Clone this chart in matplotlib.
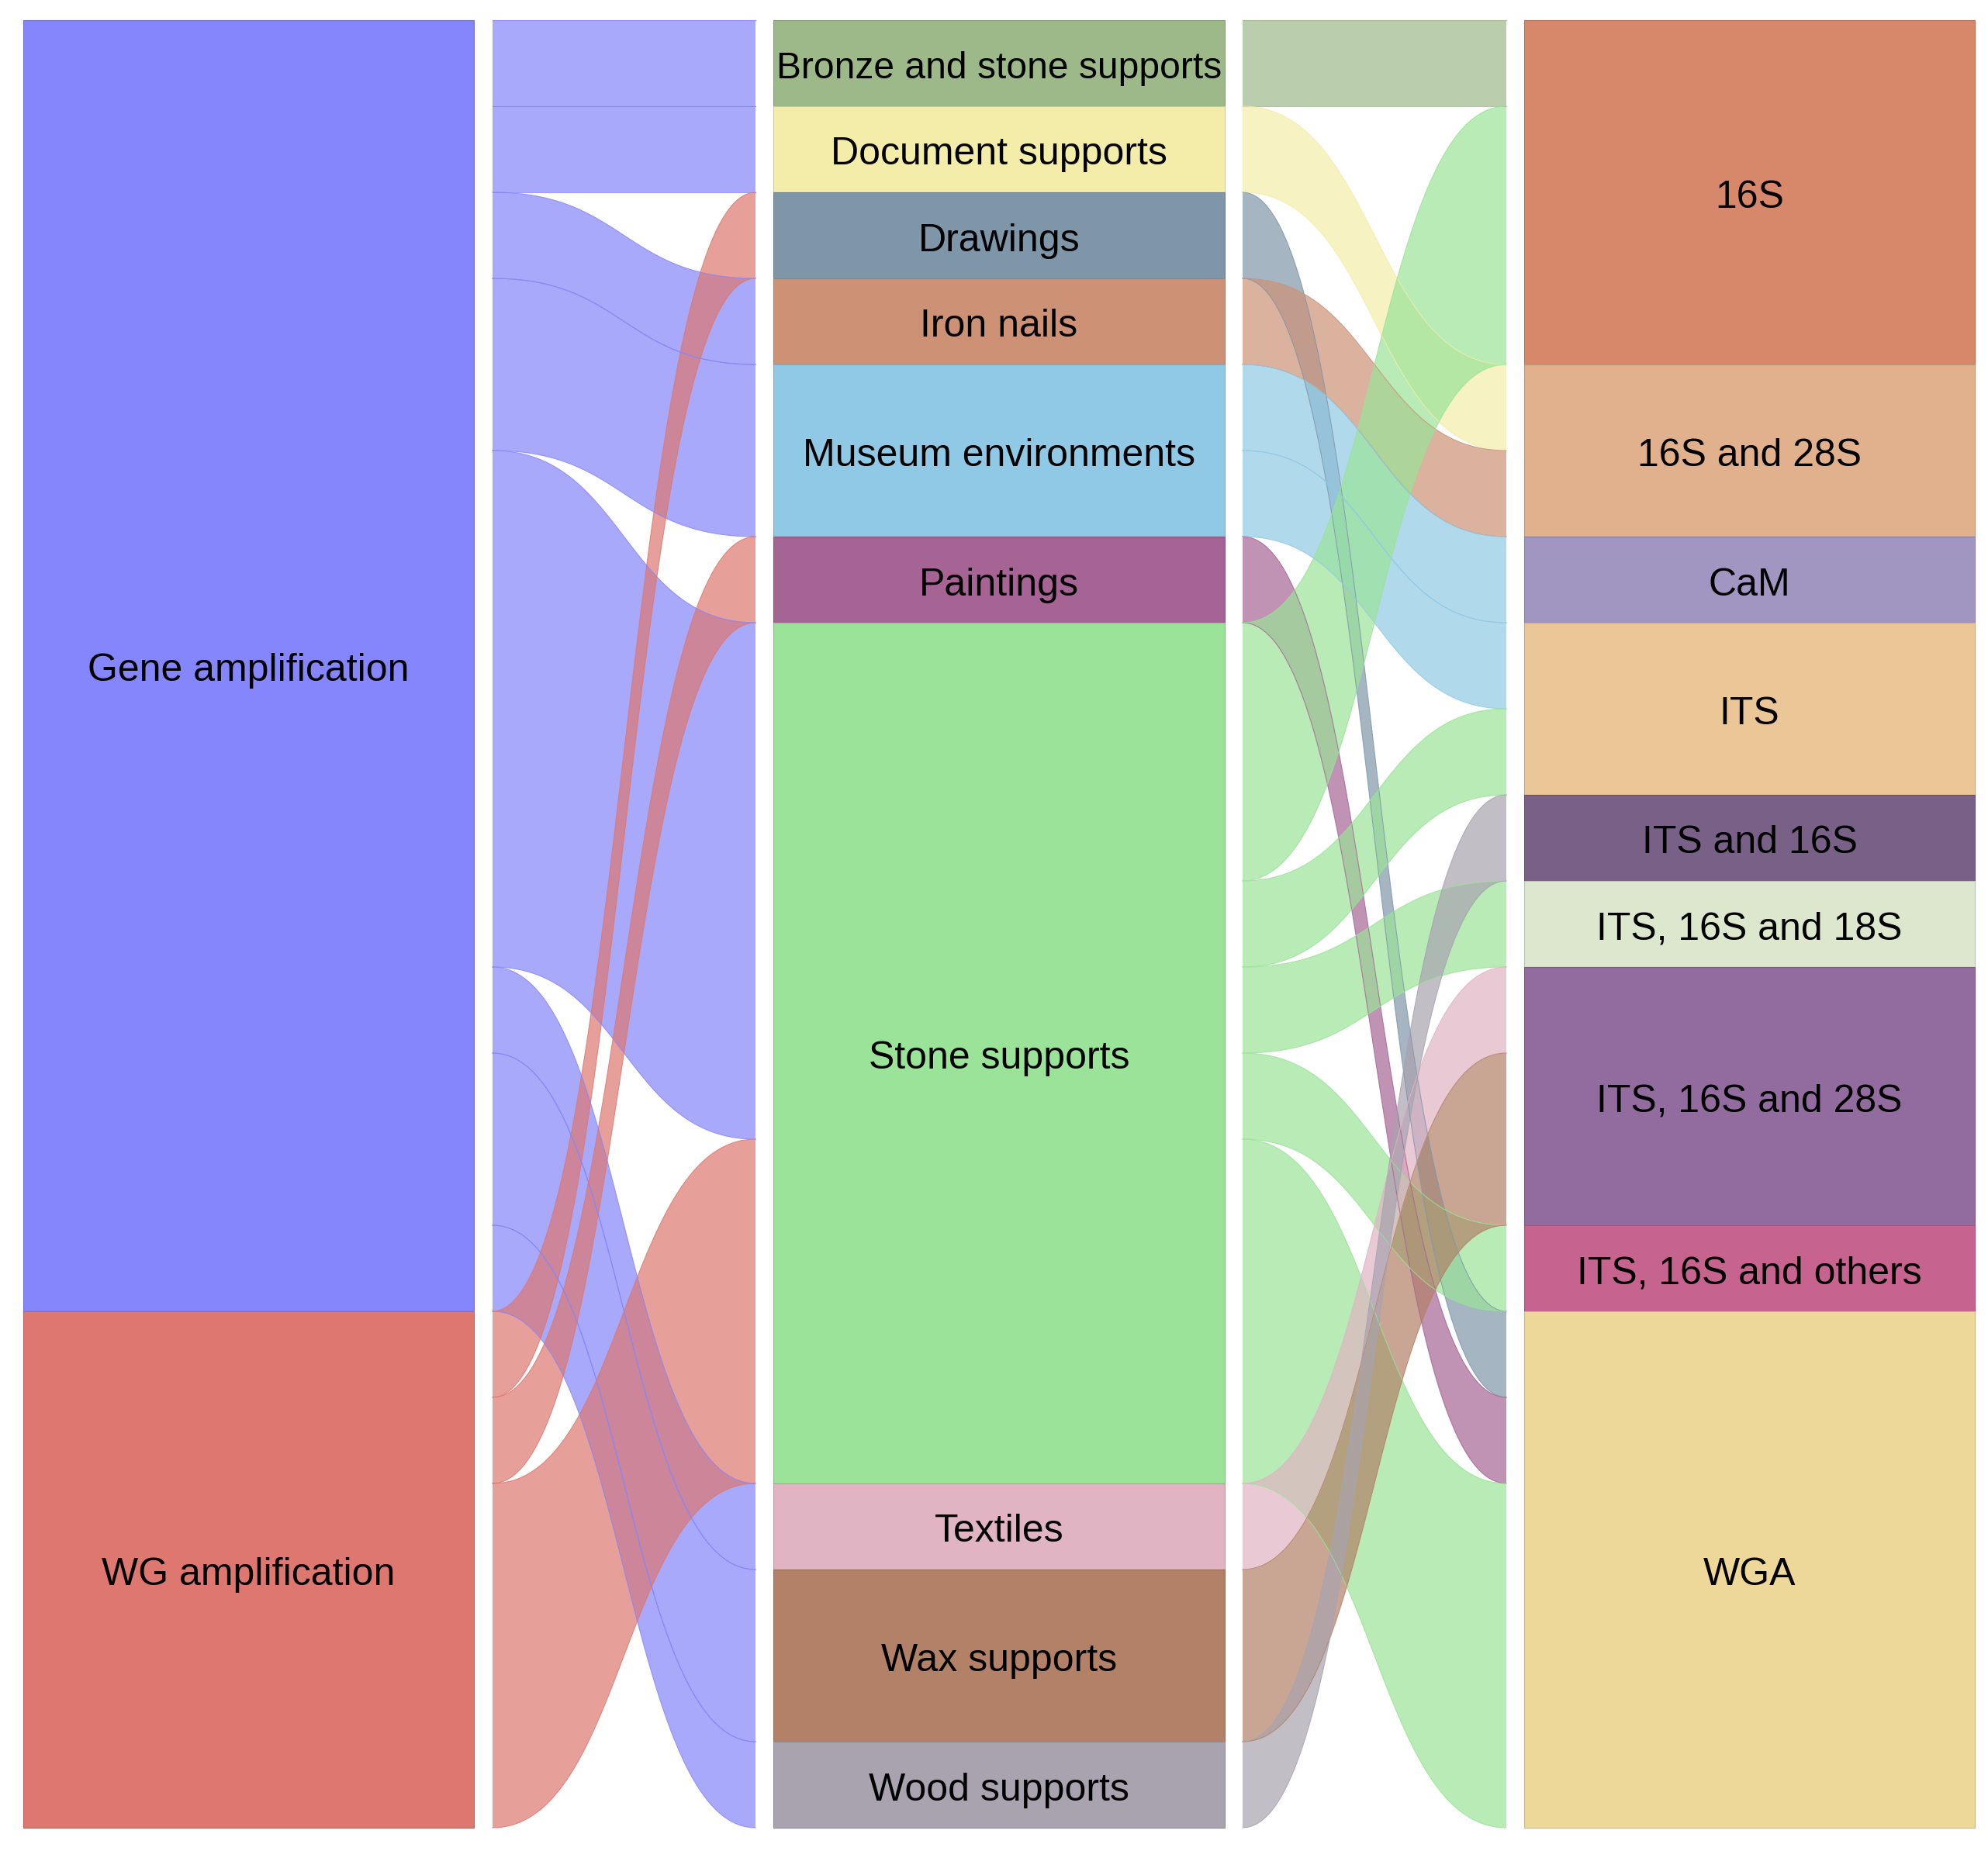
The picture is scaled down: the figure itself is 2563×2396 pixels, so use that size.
import matplotlib
matplotlib.use("Agg")
import matplotlib.pyplot as plt
import matplotlib.colors as mcolors
from matplotlib.patches import Rectangle, Polygon
import numpy as np

# Datos: tres columnas (amplificación -> material -> diana)
amplificacion = ["Gene amplification", "WG amplification"]
materiales = ["Bronze and stone supports", "Document supports", "Drawings", "Iron nails",
              "Museum environments", "Paintings", "Stone supports", "Textiles",
              "Wax supports", "Wood supports"]
dianas = ["16S", "16S and 28S", "CaM", "ITS", "ITS and 16S", "ITS, 16S and 18S",
          "ITS, 16S and 28S", "ITS, 16S and others", "WGA"]

# flujos (origen, destino, n)
flujos_1 = [
    ("Gene amplification", "Bronze and stone supports", 1),
    ("Gene amplification", "Document supports", 1),
    ("Gene amplification", "Iron nails", 1),
    ("Gene amplification", "Museum environments", 2),
    ("Gene amplification", "Stone supports", 6),
    ("Gene amplification", "Textiles", 1),
    ("Gene amplification", "Wax supports", 2),
    ("Gene amplification", "Wood supports", 1),
    ("WG amplification", "Drawings", 1),
    ("WG amplification", "Paintings", 1),
    ("WG amplification", "Stone supports", 4),
]
flujos_2 = [
    ("Bronze and stone supports", "16S", 1),
    ("Document supports", "16S and 28S", 1),
    ("Drawings", "WGA", 1),
    ("Iron nails", "16S and 28S", 1),
    ("Museum environments", "CaM", 1),
    ("Museum environments", "ITS", 1),
    ("Paintings", "WGA", 1),
    ("Stone supports", "16S", 3),
    ("Stone supports", "ITS", 1),
    ("Stone supports", "ITS, 16S and 18S", 1),
    ("Stone supports", "ITS, 16S and others", 1),
    ("Stone supports", "WGA", 4),
    ("Textiles", "ITS, 16S and 28S", 1),
    ("Wax supports", "ITS, 16S and 28S", 2),
    ("Wood supports", "ITS and 16S", 1),
]

colores = {
    "Gene amplification": "#8585FC", "WG amplification": "#DD7770",
    "Bronze and stone supports": "#9DB98A", "Document supports": "#F4EDA9",
    "Drawings": "#7F96A9", "Iron nails": "#CD9275", "Museum environments": "#90C9E5",
    "Paintings": "#A66494", "Stone supports": "#9AE398", "Textiles": "#E0B4C2",
    "Wax supports": "#B28167", "Wood supports": "#A8A3AF",
    "16S": "#D7876A", "16S and 28S": "#E1B18E", "CaM": "#A196C1", "ITS": "#EBC797",
    "ITS and 16S": "#786086", "ITS, 16S and 18S": "#DCE7CE", "ITS, 16S and 28S": "#926B9F",
    "ITS, 16S and others": "#C6648F", "WGA": "#EDD89A",
}

W, H = 2563, 2396
top, bottom = 26, 2357
unidad = (bottom - top) / 21.0
col_x = [(30, 611), (997, 1579), (1965, 2546)]
flow_x = [(635, 974), (1602, 1942)]
tam = 36

fig = plt.figure(figsize=(W / 100, H / 100), dpi=100)
ax = fig.add_axes([0, 0, 1, 1])
ax.set_xlim(0, W)
ax.set_ylim(H, 0)
ax.axis("off")


def totales(nombres, flujos, lado):
    t = {n: 0 for n in nombres}
    for f in flujos:
        t[f[lado]] += f[2]
    return t


def posiciones(nombres, tot):
    pos = {}
    y = top
    for n in nombres:
        pos[n] = y
        y += tot[n] * unidad
    return pos


tot_a = totales(amplificacion, flujos_1, 0)
tot_m = totales(materiales, flujos_1, 1)
tot_d = totales(dianas, flujos_2, 1)
pos_a = posiciones(amplificacion, tot_a)
pos_m = posiciones(materiales, tot_m)
pos_d = posiciones(dianas, tot_d)


def oscuro(c, f=0.85):
    r, g, b = mcolors.to_rgb(c)
    return (r * f, g * f, b * f)


def curva(x0, x1, y0, y1, n=80):
    t = np.linspace(0, 1, n)
    xm = (x0 + x1) / 2
    x = (1 - t) ** 3 * x0 + 3 * (1 - t) ** 2 * t * xm + 3 * (1 - t) * t ** 2 * xm + t ** 3 * x1
    y = (1 - t) ** 3 * y0 + 3 * (1 - t) ** 2 * t * y0 + 3 * (1 - t) * t ** 2 * y1 + t ** 3 * y1
    return x, y


def dibujar_flujos(flujos, orden_origen, orden_destino, pos_o, pos_d, xs):
    sal = dict(pos_o)
    ent = dict(pos_d)
    # salidas ordenadas por destino, entradas por origen
    out_off = {}
    for o in orden_origen:
        for f in sorted([f for f in flujos if f[0] == o], key=lambda f: orden_destino.index(f[1])):
            out_off[(f[0], f[1])] = sal[o]
            sal[o] += f[2] * unidad
    in_off = {}
    for d in orden_destino:
        for f in sorted([f for f in flujos if f[1] == d], key=lambda f: orden_origen.index(f[0])):
            in_off[(f[0], f[1])] = ent[d]
            ent[d] += f[2] * unidad
    for o, d, n in flujos:
        y0 = out_off[(o, d)]
        y1 = in_off[(o, d)]
        h = n * unidad
        xa, ya = curva(xs[0], xs[1], y0, y1)
        xb, yb = curva(xs[0], xs[1], y0 + h, y1 + h)
        pts = np.vstack([np.column_stack([xa, ya]), np.column_stack([xb[::-1], yb[::-1]])])
        c = colores[o]
        ax.add_patch(Polygon(pts, closed=True, facecolor=c, alpha=0.7, edgecolor="none"))
        ax.plot(xa, ya, color=c, lw=0.8, alpha=0.8)
        ax.plot(xb, yb, color=c, lw=0.8, alpha=0.8)


dibujar_flujos(flujos_1, amplificacion, materiales, pos_a, pos_m, flow_x[0])
dibujar_flujos(flujos_2, materiales, dianas, pos_m, pos_d, flow_x[1])

fig.canvas.draw()
renderer = fig.canvas.get_renderer()
for nombres, pos, tot, (x0, x1) in [(amplificacion, pos_a, tot_a, col_x[0]),
                                     (materiales, pos_m, tot_m, col_x[1]),
                                     (dianas, pos_d, tot_d, col_x[2])]:
    for n in nombres:
        h = tot[n] * unidad
        ax.add_patch(Rectangle((x0, pos[n]), x1 - x0, h, facecolor=colores[n],
                               edgecolor=oscuro(colores[n]), lw=0.8))
        txt = ax.text((x0 + x1) / 2, pos[n] + h / 2 + 7, n, ha="center", va="center",
                      fontsize=tam, family="Liberation Sans", color="black")
        ancho = txt.get_window_extent(renderer).width
        if ancho > (x1 - x0) - 8:
            txt.set_fontsize(tam * ((x1 - x0) - 8) / ancho)

fig.savefig("out.png", dpi=100)
